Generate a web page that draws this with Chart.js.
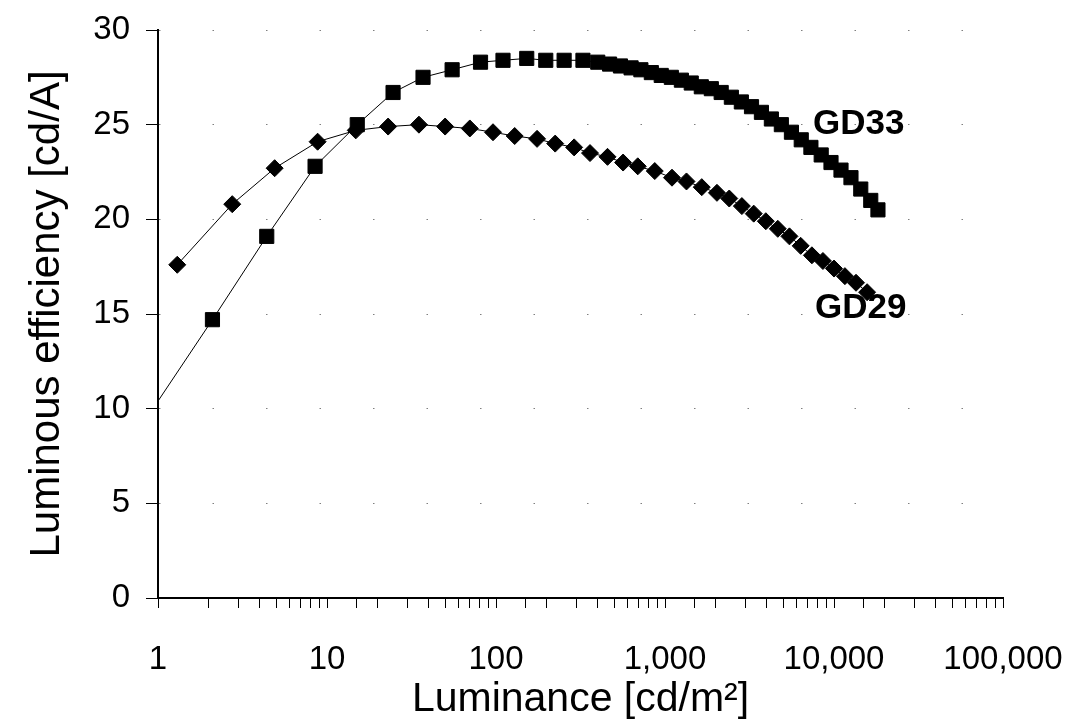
<!DOCTYPE html>
<html>
<head>
<meta charset="utf-8">
<script src="https://cdn.jsdelivr.net/npm/chart.js@4/dist/chart.umd.min.js"></script>
<style>
  html, body { margin: 0; padding: 0; background: #fff; }
  #wrap { width: 1084px; height: 720px; }
</style>
</head>
<body>
<div id="wrap"><canvas id="effChart" width="1084" height="720"></canvas></div>
<script>
// luminance [cd/m2] and efficiency [cd/A]
const gd33Lum = [1, 2.1, 4.4, 8.5, 15.1, 24.6, 37, 55, 81, 110, 152, 197, 253, 327, 400, 470, 545, 630, 720, 830, 950, 1090, 1250, 1430, 1640, 1880, 2150, 2470, 2830, 3250, 3720, 4260, 4880, 5600, 6400, 7300, 8400, 9600, 11000, 12600, 14400, 16500, 18200];
const gd33Eff = [10.4, 14.7, 19.1, 22.8, 25.0, 26.7, 27.5, 27.9, 28.3, 28.4, 28.5, 28.4, 28.4, 28.4, 28.3, 28.2, 28.1, 28.0, 27.9, 27.75, 27.6, 27.5, 27.35, 27.2, 27.0, 26.9, 26.7, 26.45, 26.2, 25.95, 25.65, 25.3, 25.0, 24.6, 24.2, 23.8, 23.4, 23.0, 22.6, 22.2, 21.6, 21.0, 20.5];

const gd29Lum = [1.3, 2.75, 4.9, 8.8, 14.8, 23, 35, 50, 70, 96, 129, 175, 224, 290, 360, 457, 565, 690, 870, 1100, 1340, 1650, 2030, 2400, 2850, 3350, 3950, 4650, 5450, 6350, 7400, 8600, 10000, 11600, 13500, 15700];
const gd29Eff = [17.6, 20.8, 22.7, 24.1, 24.7, 24.9, 25.0, 24.9, 24.8, 24.6, 24.4, 24.25, 24.0, 23.8, 23.5, 23.3, 23.0, 22.8, 22.55, 22.2, 22.0, 21.7, 21.4, 21.1, 20.7, 20.3, 19.9, 19.5, 19.1, 18.6, 18.1, 17.8, 17.4, 17.0, 16.65, 16.15];

const seriesNames = ['GD33', 'GD29'];
const nameLum = [7510, 7720];
const nameEff = [25.0, 15.3];

const FONT = "'Liberation Sans', Arial, sans-serif";

const seriesLabels = {
  id: 'seriesLabels',
  afterDatasetsDraw(chart) {
    const {ctx, scales} = chart;
    ctx.save();
    ctx.fillStyle = '#000';
    ctx.font = 'bold 35px ' + FONT;
    ctx.textAlign = 'left';
    ctx.textBaseline = 'middle';
    seriesNames.forEach((name, i) => {
      ctx.fillText(name, scales.x.getPixelForValue(nameLum[i]), scales.y.getPixelForValue(nameEff[i]));
    });
    ctx.restore();
  }
};

const isDecade = v => Math.abs(Math.log10(v) - Math.round(Math.log10(v))) < 1e-9;

new Chart(document.getElementById('effChart').getContext('2d'), {
  type: 'scatter',
  data: {
    datasets: [
      {
        label: 'GD33',
        data: gd33Lum.map((x, i) => ({x: x, y: gd33Eff[i]})),
        showLine: true,
        borderColor: '#000',
        borderWidth: 1,
        backgroundColor: '#000',
        pointStyle: 'rect',
        pointRadius: c => c.dataIndex === 0 ? 0 : 10,
        pointBorderWidth: 1,
        pointBorderColor: '#000'
      },
      {
        label: 'GD29',
        data: gd29Lum.map((x, i) => ({x: x, y: gd29Eff[i]})),
        showLine: true,
        borderColor: '#000',
        borderWidth: 1,
        backgroundColor: '#000',
        pointStyle: 'rectRot',
        pointRadius: 8.5,
        pointBorderWidth: 1,
        pointBorderColor: '#000'
      }
    ]
  },
  options: {
    responsive: false,
    animation: false,
    events: [],
    layout: {padding: {top: 30, right: 81, bottom: 0, left: 0}},
    plugins: {legend: {display: false}, tooltip: {enabled: false}},
    scales: {
      x: {
        type: 'logarithmic',
        min: 1,
        max: 100000,
        afterFit: s => { s.height = 122; s.paddingLeft = 0; s.paddingRight = 0; },
        border: {color: '#000', width: 2},
        grid: {drawOnChartArea: false, drawTicks: true, tickLength: 10, tickColor: '#000', tickWidth: 1},
        ticks: {
          autoSkip: false,
          maxRotation: 0,
          padding: 32,
          color: '#000',
          font: {family: FONT, size: 33},
          callback: v => isDecade(v) ? Number(v).toLocaleString('en-US') : ''
        },
        title: {
          display: true,
          text: 'Luminance [cd/m²]',
          color: '#000',
          font: {family: FONT, size: 41, lineHeight: 1},
          padding: {top: 0, bottom: 0}
        }
      },
      y: {
        min: 0,
        max: 30,
        afterFit: s => { s.width = 158; s.paddingTop = 0; s.paddingBottom = 0; },
        border: {color: '#000', width: 2, dash: [1.5, 52]},
        grid: {
          color: 'rgba(0,0,0,0.5)',
          lineWidth: 1,
          drawTicks: true,
          tickLength: 12,
          tickColor: '#000',
          tickWidth: 1,
          tickBorderDash: []
        },
        ticks: {
          stepSize: 5,
          padding: 16,
          color: '#000',
          font: {family: FONT, size: 33}
        },
        title: {
          display: true,
          text: 'Luminous efficiency [cd/A]',
          color: '#000',
          font: {family: FONT, size: 42, lineHeight: 1},
          padding: {top: 26, bottom: 0}
        }
      }
    }
  },
  plugins: [seriesLabels]
});
</script>
</body>
</html>
